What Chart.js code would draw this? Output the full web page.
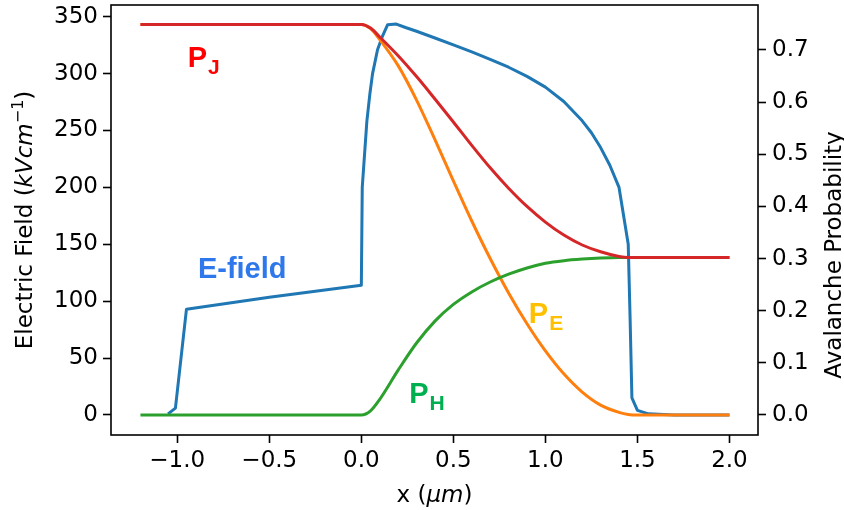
<!DOCTYPE html>
<html>
<head>
<meta charset="utf-8">
<script src="https://cdn.jsdelivr.net/npm/chart.js@4.4.1/dist/chart.umd.min.js"></script>
<style>
  html, body { margin: 0; padding: 0; background: #fff; }
  #wrap { width: 844px; height: 510px; }
</style>
</head>
<body>
<div id="wrap"><canvas id="fieldChart" width="844" height="510"></canvas></div>
<script>
// E-field profile (left axis, kV/cm)
const xField = [-1.05, -1.01, -0.95, -0.5, 0.0, 0.005, 0.03, 0.047, 0.061, 0.088, 0.115, 0.143, 0.19, 0.24, 0.3, 0.4, 0.5,
    0.6, 0.7, 0.8, 0.9, 1.0, 1.1, 1.2, 1.25, 1.3, 1.35, 1.4, 1.45, 1.46, 1.47, 1.50, 1.56, 1.7, 2.0];
const eField = [1, 6, 93, 103.5, 114, 200, 258, 283, 300, 321, 333, 343, 343.5, 340.5, 337.2, 331.3, 325.3,
    319.1, 312.6, 305.6, 297.6, 288.1, 275.5, 258.5, 248, 235, 219.5, 200, 150, 86, 15, 4, 1, 0, 0];

// avalanche probabilities (right axis)
const xProb = [-1.2, 0.0, 0.05, 0.1, 0.2, 0.3, 0.4, 0.5, 0.6, 0.7, 0.8, 0.9, 1.0, 1.1, 1.2, 1.3, 1.4, 1.45, 1.5, 2.0];
const pJ = [0.749, 0.749, 0.742, 0.725, 0.689, 0.649, 0.606, 0.562, 0.517, 0.474, 0.435, 0.400, 0.370, 0.345, 0.326, 0.313, 0.304, 0.302, 0.302, 0.302];
const pE = [0.749, 0.749, 0.741, 0.720, 0.670, 0.604, 0.528, 0.449, 0.372, 0.300, 0.234, 0.175, 0.123, 0.079, 0.044, 0.019, 0.005, 0.001, 0, 0];
const pH = [0, 0, 0.008, 0.030, 0.086, 0.138, 0.180, 0.212, 0.236, 0.255, 0.270, 0.282, 0.291, 0.296, 0.299, 0.301, 0.302, 0.302, 0.302, 0.302];

const xTicks = [-1.0, -0.5, 0.0, 0.5, 1.0, 1.5, 2.0];
const fieldTicks = [0, 50, 100, 150, 200, 250, 300, 350];
const probTicks = [0.0, 0.1, 0.2, 0.3, 0.4, 0.5, 0.6, 0.7];

const pts = (xs, ys) => xs.map((x, i) => ({ x: x, y: ys[i] }));
const minus = v => (v < 0 ? '\u2212' : '') + Math.abs(v).toFixed(1);

const tickFont = { family: 'DejaVu Sans', size: 23 };
const axisGrid = { display: true, drawOnChartArea: false, drawTicks: true, tickLength: 8, tickWidth: 1.6, tickColor: '#000' };

// curve labels, placed in data units of the left axis
const notes = [
    { main: 'P', sub: 'J', x: -0.943, y: 306, color: '#ff0000' },
    { main: 'E-field', sub: '', x: -0.888, y: 120.5, color: '#2f78ec' },
    { main: 'P', sub: 'E', x: 0.91, y: 80.6, color: '#ffc000' },
    { main: 'P', sub: 'H', x: 0.26, y: 10.3, color: '#00b050' }
];

function drawParts(ctx, parts, size) {
    let total = 0;
    parts.forEach(p => {
        ctx.font = (p.italic ? 'italic ' : '') + Math.round(size * (p.scale || 1)) + 'px "DejaVu Sans"';
        p.w = ctx.measureText(p.t).width;
        total += p.w;
    });
    let x = -total / 2;
    parts.forEach(p => {
        ctx.font = (p.italic ? 'italic ' : '') + Math.round(size * (p.scale || 1)) + 'px "DejaVu Sans"';
        ctx.fillText(p.t, x, p.rise ? -p.rise : 0);
        x += p.w;
    });
}

const extras = {
    id: 'extras',
    afterDatasetsDraw(chart) {
        const ctx = chart.ctx;
        const a = chart.chartArea;
        const xs = chart.scales.x, ys = chart.scales.y;
        ctx.save();
        ctx.strokeStyle = '#000';
        ctx.lineWidth = 1.6;
        ctx.strokeRect(a.left, a.top, a.right - a.left, a.bottom - a.top);

        ctx.textAlign = 'left';
        ctx.textBaseline = 'alphabetic';
        notes.forEach(n => {
            const px = xs.getPixelForValue(n.x), py = ys.getPixelForValue(n.y);
            ctx.fillStyle = n.color;
            ctx.font = 'bold 29px "Liberation Sans"';
            ctx.fillText(n.main, px, py);
            const w = ctx.measureText(n.main).width;
            if (n.sub) {
                ctx.font = 'bold 21px "Liberation Sans"';
                ctx.fillText(n.sub, px + w + 1, py + 7);
            }
        });

        ctx.fillStyle = '#000';
        // x axis title
        ctx.save();
        ctx.translate((a.left + a.right) / 2, 502);
        drawParts(ctx, [{ t: 'x (' }, { t: '\u03bcm', italic: true }, { t: ')' }], 23);
        ctx.restore();
        // left axis title
        ctx.save();
        ctx.translate(32, (a.top + a.bottom) / 2);
        ctx.rotate(-Math.PI / 2);
        drawParts(ctx, [{ t: 'Electric Field (' }, { t: 'kVcm', italic: true },
            { t: '\u22121', scale: 0.7, rise: 9 }, { t: ')' }], 23);
        ctx.restore();
        // right axis title
        ctx.save();
        ctx.translate(841, 255);
        ctx.rotate(-Math.PI / 2);
        drawParts(ctx, [{ t: 'Avalanche Probability' }], 23);
        ctx.restore();
        ctx.restore();
    }
};

const noPad = s => { s.paddingTop = 0; s.paddingBottom = 0; s.paddingLeft = 0; s.paddingRight = 0; };

const ctx = document.getElementById('fieldChart').getContext('2d');
const fieldChart = new Chart(ctx, {
    type: 'line',
    data: {
        datasets: [
            { label: 'P_J', data: pts(xProb, pJ), yAxisID: 'y1', borderColor: '#d62728', order: 0, cubicInterpolationMode: 'monotone' },
            { label: 'P_H', data: pts(xProb, pH), yAxisID: 'y1', borderColor: '#2ca02c', order: 1, cubicInterpolationMode: 'monotone' },
            { label: 'P_E', data: pts(xProb, pE), yAxisID: 'y1', borderColor: '#ff7f0e', order: 2, cubicInterpolationMode: 'monotone' },
            { label: 'E-field', data: pts(xField, eField), yAxisID: 'y', borderColor: '#1f77b4', order: 3, tension: 0 }
        ]
    },
    options: {
        responsive: false,
        animation: false,
        events: [],
        layout: { padding: { top: 5, left: 0, right: 0, bottom: 0 } },
        elements: {
            point: { radius: 0 },
            line: { borderWidth: 3, fill: false, borderCapStyle: 'butt', borderJoinStyle: 'round' }
        },
        plugins: { legend: { display: false }, tooltip: { enabled: false } },
        scales: {
            x: {
                type: 'linear',
                min: -1.36,
                max: 2.155,
                grid: axisGrid,
                border: { display: false },
                afterBuildTicks: s => { s.ticks = xTicks.map(v => ({ value: v })); },
                afterFit: s => { s.height = 75; noPad(s); },
                ticks: { font: tickFont, color: '#000', padding: 4, maxRotation: 0, autoSkip: false, callback: v => minus(v) }
            },
            y: {
                type: 'linear',
                position: 'left',
                min: -17.6,
                max: 360.3,
                grid: axisGrid,
                border: { display: false },
                afterBuildTicks: s => { s.ticks = fieldTicks.map(v => ({ value: v })); },
                afterFit: s => { s.width = 111; noPad(s); },
                ticks: { font: tickFont, color: '#000', padding: 5, autoSkip: false, callback: v => String(v) }
            },
            y1: {
                type: 'linear',
                position: 'right',
                min: -0.0384,
                max: 0.7863,
                grid: axisGrid,
                border: { display: false },
                afterBuildTicks: s => { s.ticks = probTicks.map(v => ({ value: v })); },
                afterFit: s => { s.width = 86; noPad(s); },
                ticks: { font: tickFont, color: '#000', padding: 6, autoSkip: false, callback: v => v.toFixed(1) }
            }
        }
    },
    plugins: [extras]
});
</script>
</body>
</html>
